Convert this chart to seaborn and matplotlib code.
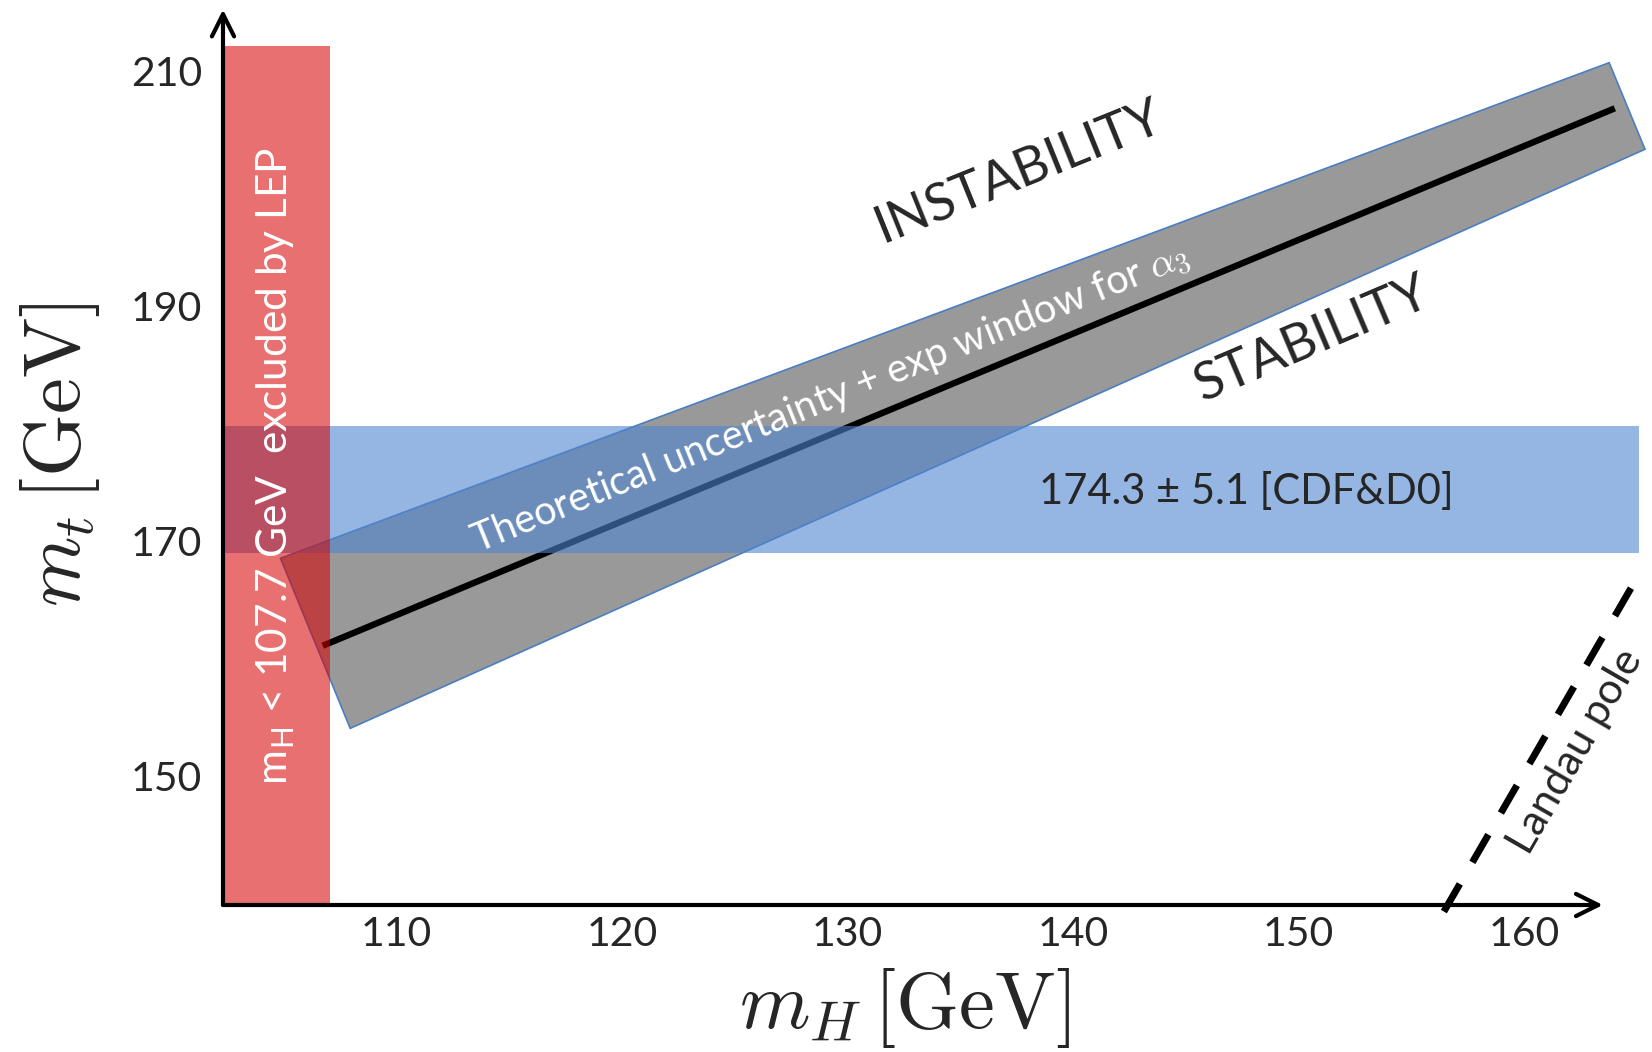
import matplotlib
matplotlib.use('Agg')
import matplotlib.pyplot as plt
import seaborn as sns

# valores (GeV)
x_ticks = [110, 120, 130, 140, 150, 160]
y_ticks = [150, 170, 190, 210]

# linha central de estabilidade
linha_mh = [106.73, 164.03]
linha_mt = [161.1, 206.8]

# faixa cinza (incerteza teorica)
faixa_mh = [104.86, 163.78, 165.37, 107.95]
faixa_mt = [168.54, 210.68, 203.32, 154.08]

# faixa vermelha (LEP) e faixa azul (CDF&D0)
lep_limite = 107.05
lep_topo = 212.1
cdf_baixo, cdf_alto = 169.0, 179.8

# polo de Landau
landau_mh = [156.45, 165.29]
landau_mt = [138.5, 167.8]

# limites dos eixos
x_min, x_max = 102.31, 165.68
y_min, y_max = 139.06, 216.01
seta_x, seta_y = 163.5, 215.2

sns.set_theme(style='white')
plt.rcParams['font.family'] = ['Lato', 'DejaVu Sans']
plt.rcParams['mathtext.fontset'] = 'cm'

fig = plt.figure(figsize=(16.52, 10.52), dpi=100)
ax = fig.add_axes([223 / 1652, 147 / 1052, 1429 / 1652, 905 / 1052])
ax.set_xlim(x_min, x_max)
ax.set_ylim(y_min, y_max)
for s in ax.spines.values():
    s.set_visible(False)

# faixa cinza
ax.fill(faixa_mh, faixa_mt, facecolor='#999999', edgecolor='#4a7ec4', lw=1.2, zorder=1)

# linha preta
sns.lineplot(x=linha_mh, y=linha_mt, color='black', lw=4.6, solid_capstyle='butt', ax=ax, zorder=2)

# faixa azul
ax.axhspan(cdf_baixo, cdf_alto, xmin=0, xmax=(165.1 - x_min) / (x_max - x_min),
           color='#4e84d0', alpha=0.6, lw=0, zorder=3)

# faixa vermelha
ax.fill_between([x_min, lep_limite], y_min, lep_topo, color='#d60000', alpha=0.56, lw=0, zorder=4)

# polo de Landau
sns.lineplot(x=landau_mh, y=landau_mt, color='black', lw=5, linestyle=(0, (4.6, 3.6)),
             ax=ax, zorder=5, clip_on=False)

# eixos com setas
ax.annotate('', xy=(seta_x, y_min), xytext=(x_min, y_min), annotation_clip=False,
            arrowprops=dict(arrowstyle='->,head_length=0.8,head_width=0.4', lw=3,
                            color='black', mutation_scale=20, shrinkA=0, shrinkB=0), zorder=6)
ax.annotate('', xy=(x_min, seta_y), xytext=(x_min, y_min), annotation_clip=False,
            arrowprops=dict(arrowstyle='->,head_length=0.8,head_width=0.4', lw=3,
                            color='black', mutation_scale=20, shrinkA=0, shrinkB=0), zorder=6)

ax.set_xticks(x_ticks)
ax.set_yticks(y_ticks)
ax.tick_params(axis='both', length=0, labelsize=29.5)
ax.tick_params(axis='x', pad=8)
ax.tick_params(axis='y', pad=15)

# rotulos dos eixos
ax.set_xlabel(r'$m_H\,[\mathrm{GeV}]$', fontsize=58)
ax.set_ylabel(r'$m_t\,[\mathrm{GeV}]$', fontsize=58)
ax.xaxis.label.set_va('center')
ax.yaxis.label.set_va('center')
ax.xaxis.set_label_coords(0.477, -0.114)
ax.yaxis.set_label_coords(-0.114, 0.498)

# textos
ax.text(1018 / 1652, 1 - 172 / 1052, 'INSTABILITY', transform=fig.transFigure, fontsize=38,
        rotation=22, ha='center', va='center', rotation_mode='anchor', zorder=7)
ax.text(1312 / 1652, 1 - 340 / 1052, 'STABILITY', transform=fig.transFigure, fontsize=38,
        rotation=23, ha='center', va='center', rotation_mode='anchor', zorder=7)
ax.text(830 / 1652, 1 - 398 / 1052, r'Theoretical uncertainty + exp window for $\alpha_3$',
        transform=fig.transFigure, fontsize=28.5, color='white', rotation=22,
        ha='center', va='center', rotation_mode='anchor', zorder=7)
ax.text(1246 / 1652, 1 - 492 / 1052, '174.3 ± 5.1 [CDF&D0]', transform=fig.transFigure,
        fontsize=30, ha='center', va='center', zorder=7)
ax.text(276 / 1652, 1 - 466 / 1052, r'm$_\mathregular{H}$ < 107.7 GeV  excluded by LEP',
        transform=fig.transFigure, fontsize=30.5, color='white', rotation=90,
        ha='center', va='center', rotation_mode='anchor', zorder=7)
ax.text(1576 / 1652, 1 - 752 / 1052, 'Landau pole', transform=fig.transFigure, fontsize=31,
        rotation=60, ha='center', va='center', rotation_mode='anchor', zorder=7)

fig.savefig('out.png', dpi=100)
